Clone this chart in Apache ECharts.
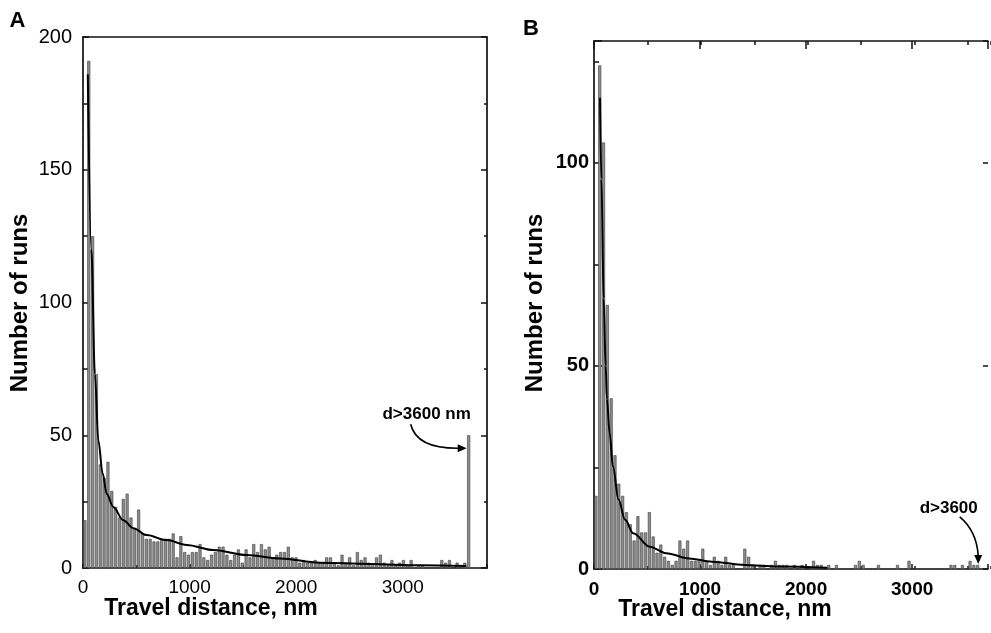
<!DOCTYPE html>
<html><head><meta charset="utf-8">
<script src="https://cdn.jsdelivr.net/npm/echarts@6/dist/echarts.min.js"></script>
<style>html,body{margin:0;padding:0;background:#fff}#c{width:991px;height:633px}</style>
</head><body><div id="c"></div>
<script>
// ---------------- data ----------------
const binWidth = 36;          // nm per histogram bin
const overflowStart = 3600;   // last bin collects d > 3600 nm
const xTickLabels = [0, 1000, 2000, 3000];

// Panel A: counts per 36-nm bin from 0 to 3600 nm
const countsA = [
  18,191,125,73,39,34,40,29,23,19, 26,28,19,15,22,13,11,11,10,10,
  11,11,11,13,4,12,6,5,6,6, 9,4,3,5,6,8,8,5,3,5,
  7,2,7,4,9,6,9,7,8,4, 5,6,6,8,4,4,2,3,2,2,
  3,2,2,4,4,2,1,5,2,4, 1,6,3,4,2,1,4,5,2,1,
  3,1,2,3,1,3,0,1,1,0, 0,0,0,3,2,3,0,2,0,2
];
const overflowA = 50;
// fitted curve, panel A
const fitAx = [45, 78, 112, 144, 184, 222, 284, 378, 472, 597, 784, 972, 1222, 1534, 1847, 2221, 2690, 3158, 3596];
const fitAy = [186, 120, 73, 48, 35.7, 28, 23, 18, 15, 12.4, 10.5, 8.7, 6.8, 4.9, 3.6, 2.0, 1.5, 1.0, 0.75];

// Panel B
const countsB = [
  18,124,105,65,42,28,21,18,14,11, 7,13,9,9,14,8,4,6,3,2,
  1,2,7,5,7,2,2,2,5,2, 1,3,2,1,3,1,1,0,0,5,
  3,1,0,1,1,0,1,2,1,1, 1,0,1,0,1,0,0,2,1,1,
  0,1,0,1,0,0,0,0,1,2, 1,0,0,0,1,0,0,0,0,1,
  0,0,2,0,0,0,0,0,0,0, 0,0,0,1,1,0,1,0,2,1
];
const overflowB = 1;
const fitBx = [57, 70, 91, 110, 122, 147, 178, 231, 293, 370, 525, 680, 896, 1112, 1422, 1732, 2200];
const fitBy = [116, 96, 66.6, 50, 41.8, 33.6, 25.3, 17.1, 12.1, 8.8, 5.5, 3.9, 2.6, 1.8, 1.0, 0.6, 0.3];

// ---------------- build ----------------
const FONT = '"Liberation Sans", Arial, Helvetica, sans-serif';
const INK = '#111';

function barData(counts, overflow) {
  const d = counts.map((v, i) => [i * binWidth + binWidth / 2, v]);
  d.push([overflowStart + binWidth / 2, overflow]);
  return d;
}
function pairs(xs, ys) { return xs.map((x, i) => [x, ys[i]]); }

const xFmt = v => (xTickLabels.indexOf(v) >= 0 ? String(v) : '');
const yFmt = v => (v % 50 === 0 ? String(v) : '');

function axis(kind, o) {
  const a = {
    type: 'value', gridIndex: o.grid, position: o.pos, min: 0, max: o.max, interval: o.interval,
    axisLine: { show: !!o.line, onZero: false, lineStyle: { color: INK, width: 1.7 } },
    axisTick: { show: o.tick > 0, inside: true, length: o.tick, lineStyle: { color: INK, width: 1.5 } },
    axisLabel: { show: false },
    splitLine: { show: false }
  };
  if (o.label) {
    a.axisLabel = {
      show: true, formatter: kind === 'x' ? xFmt : yFmt, color: '#000',
      fontFamily: FONT, fontSize: o.label.size, fontWeight: o.label.weight, margin: o.label.margin
    };
  }
  return a;
}

const AX = 3790, AY = 200, BX = 3715, BY = 130;
const gA = { left: 83, top: 37, width: 404, height: 531 };
const gB = { left: 594, top: 41, width: 399, height: 528 };

const grids = [gA, gA, gB, gB];
const xAxes = [
  axis('x', { grid: 0, pos: 'bottom', max: AX, interval: 1000, tick: 4, line: true, label: { size: 19, weight: 'normal', margin: 10 } }),
  axis('x', { grid: 0, pos: 'top', max: AX, interval: 1000, tick: 0, line: true }),
  axis('x', { grid: 1, pos: 'bottom', max: AX, interval: 500, tick: 3 }),
  axis('x', { grid: 1, pos: 'top', max: AX, interval: 500, tick: 0 }),
  axis('x', { grid: 2, pos: 'bottom', max: BX, interval: 1000, tick: 5, line: true, label: { size: 19, weight: 'bold', margin: 11 } }),
  axis('x', { grid: 2, pos: 'top', max: BX, interval: 1000, tick: 8, line: true }),
  axis('x', { grid: 3, pos: 'bottom', max: BX, interval: 500, tick: 3 }),
  axis('x', { grid: 3, pos: 'top', max: BX, interval: 500, tick: 4 })
];
const yAxes = [
  axis('y', { grid: 0, pos: 'left', max: AY, interval: 50, tick: 6, line: true, label: { size: 20, weight: 'normal', margin: 11 } }),
  axis('y', { grid: 0, pos: 'right', max: AY, interval: 50, tick: 6, line: true }),
  axis('y', { grid: 1, pos: 'left', max: AY, interval: 25, tick: 6 }),
  axis('y', { grid: 1, pos: 'right', max: AY, interval: 25, tick: 3 }),
  axis('y', { grid: 2, pos: 'left', max: BY, interval: 50, tick: 8, line: true, label: { size: 20, weight: 'bold', margin: 5 } }),
  axis('y', { grid: 2, pos: 'right', max: BY, interval: 50, tick: 5, line: false }),
  axis('y', { grid: 3, pos: 'left', max: BY, interval: 25, tick: 5 }),
  axis('y', { grid: 3, pos: 'right', max: BY, interval: 25, tick: 0 })
];

const barStyle = { color: '#8e8e8e', borderColor: '#3a3a3a', borderWidth: 0.6 };
const fitStyle = { color: '#000', width: 2 };

const chart = echarts.init(document.getElementById('c'), null, { renderer: 'canvas', width: 991, height: 633 });
chart.setOption({
  animation: false,
  backgroundColor: '#fff',
  grid: grids.map(g => Object.assign({ containLabel: false }, g)),
  xAxis: xAxes,
  yAxis: yAxes,
  series: [
    { type: 'bar', name: 'A runs', xAxisIndex: 0, yAxisIndex: 0, data: barData(countsA, overflowA), barWidth: 3, itemStyle: barStyle, z: 2 },
    { type: 'line', name: 'A fit', xAxisIndex: 0, yAxisIndex: 0, data: pairs(fitAx, fitAy), showSymbol: false, smooth: 0.35, smoothMonotone: 'x', lineStyle: fitStyle, itemStyle: { color: '#000' }, z: 3 },
    { type: 'bar', name: 'B runs', xAxisIndex: 4, yAxisIndex: 4, data: barData(countsB, overflowB), barWidth: 3, itemStyle: barStyle, z: 2 },
    { type: 'line', name: 'B fit', xAxisIndex: 4, yAxisIndex: 4, data: pairs(fitBx, fitBy), showSymbol: false, smooth: 0.35, smoothMonotone: 'x', lineStyle: fitStyle, itemStyle: { color: '#000' }, z: 3 }
  ]
});

// ---------------- annotations & titles ----------------
function txt(x, y, text, size, weight, rot) {
  return {
    type: 'text', x: x, y: y, rotation: rot || 0, z: 10,
    style: { text: text, fill: '#000', font: weight + ' ' + size + 'px ' + FONT,
             align: 'center', verticalAlign: 'middle', textAlign: 'center', textVerticalAlign: 'middle' }
  };
}
const ovA = chart.convertToPixel({ xAxisIndex: 0, yAxisIndex: 0 }, [overflowStart + binWidth / 2, overflowA]);
const ovB = chart.convertToPixel({ xAxisIndex: 4, yAxisIndex: 4 }, [overflowStart + binWidth / 2, overflowB]);

const g = [
  txt(17.5, 21, 'A', 22, 'bold'),
  txt(531, 29, 'B', 22, 'bold'),
  txt(20, 303, 'Number of runs', 24, 'bold', Math.PI / 2),
  txt(535, 303, 'Number of runs', 24, 'bold', Math.PI / 2),
  txt(211, 609, 'Travel distance, nm', 23, 'bold'),
  txt(725, 610, 'Travel distance, nm', 23, 'bold'),
  // panel A overflow note
  txt(ovA[0] - 42, ovA[1] - 21, 'd>3600 nm', 17, 'bold'),
  { type: 'bezierCurve', z: 10, shape: { x1: ovA[0] - 58, y1: ovA[1] - 11, cpx1: ovA[0] - 52, cpy1: ovA[1] + 14, x2: ovA[0] - 8, y2: ovA[1] + 13 },
    style: { stroke: '#000', lineWidth: 1.6, fill: null } },
  { type: 'polygon', z: 10, shape: { points: [[ovA[0] - 2, ovA[1] + 13], [ovA[0] - 11, ovA[1] + 9], [ovA[0] - 11, ovA[1] + 17]] }, style: { fill: '#000' } },
  // panel B overflow note
  txt(ovB[0] - 29, ovB[1] - 57, 'd>3600', 17, 'bold'),
  { type: 'bezierCurve', z: 10, shape: { x1: ovB[0] - 18, y1: ovB[1] - 48, cpx1: ovB[0] - 1, cpy1: ovB[1] - 34, x2: ovB[0] + 0.5, y2: ovB[1] - 9 },
    style: { stroke: '#000', lineWidth: 1.6, fill: null } },
  { type: 'polygon', z: 10, shape: { points: [[ovB[0] + 0.5, ovB[1] - 1], [ovB[0] - 3.5, ovB[1] - 10], [ovB[0] + 4.5, ovB[1] - 10]] }, style: { fill: '#000' } }
];
chart.setOption({ graphic: g });
</script></body></html>
